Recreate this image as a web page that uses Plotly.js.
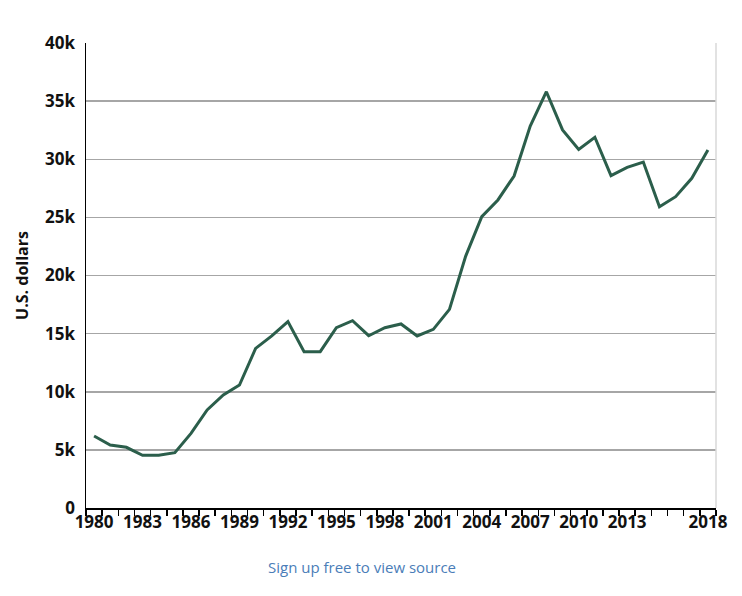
<!DOCTYPE html>
<html>
<head>
<meta charset="utf-8">
<script src="https://cdn.plot.ly/plotly-3.0.1.min.js"></script>
<style>
  html, body { margin: 0; padding: 0; background: #fff; }
  #figure { width: 742px; height: 596px; }
</style>
</head>
<body>
<div id="figure"></div>
<script>
FIGURE = document.getElementById('figure')

// one value per year, 1980 .. 2018
let years = []
for (let y = 1980; y <= 2018; y++) years.push(y)

let dollars = [
    6190, 5420, 5220, 4530, 4530, 4760, 6420, 8430, 9720, 10580,
    13730, 14800, 16030, 13450, 13450, 15510, 16110, 14820, 15510, 15830,
    14800, 15370, 17090, 21650, 25060, 26500, 28560, 32860, 35810, 32520,
    30850, 31890, 28590, 29300, 29760, 25920, 26780, 28360, 30800
]

let labelYears = [1980, 1983, 1986, 1989, 1992, 1995, 1998, 2001, 2004, 2007, 2010, 2013, 2018]
let yTicks = [0, 5000, 10000, 15000, 20000, 25000, 30000, 35000, 40000]
let yLabels = ['0', '5k', '10k', '15k', '20k', '25k', '30k', '35k', '40k']

// tick marks sit between the years
let edges = years.map(y => y - 0.5)
edges.push(years[years.length - 1] + 0.5)

let FONT = 'Open Sans, DejaVu Sans, sans-serif'
let tickFont = {family: FONT, size: 17, color: '#111111', weight: 'bold'}

let trace = {
    x: years,
    y: dollars,
    type: 'scatter',
    mode: 'lines',
    line: {color: '#2b5e4b', width: 3},
    hoverinfo: 'x+y'
}

let layout = {
    width: 742,
    height: 596,
    margin: {l: 86, r: 26, t: 43, b: 88},
    paper_bgcolor: '#ffffff',
    plot_bgcolor: '#ffffff',
    showlegend: false,
    font: {family: FONT, size: 16, color: '#111111', weight: 'bold'},
    xaxis: {
        range: [1979.5, 2018.5],
        tickvals: labelYears,
        ticktext: labelYears.map(String),
        ticks: '',
        showgrid: false,
        zeroline: false,
        showline: true,
        linecolor: '#000000',
        linewidth: 1.5,
        tickfont: tickFont,
        tickangle: 0,
        ticklabelstandoff: -2,
        minor: {
            tickvals: edges,
            ticks: 'outside',
            ticklen: 6,
            tickwidth: 1.5,
            tickcolor: '#000000',
            showgrid: false
        }
    },
    yaxis: {
        range: [0, 40000],
        tickvals: yTicks,
        ticktext: yLabels,
        ticks: '',
        showgrid: true,
        gridcolor: '#a6a6a6',
        gridwidth: 1.5,
        zeroline: false,
        showline: true,
        linecolor: '#000000',
        linewidth: 1.5,
        ticklabelstandoff: 6,
        tickfont: tickFont,
        title: {
            text: 'U.S. dollars',
            font: {family: FONT, size: 16, color: '#111111', weight: 'bold'},
            standoff: 12
        }
    },
    shapes: [
        {
            type: 'line', xref: 'paper', yref: 'paper',
            x0: 1, x1: 1, y0: 0, y1: 1,
            line: {color: '#d9d9d9', width: 1.5}
        }
    ],
    annotations: [
        {
            text: 'Sign up free to view source',
            xref: 'paper', yref: 'paper',
            x: 0.438, y: -0.126,
            xanchor: 'center', yanchor: 'middle',
            showarrow: false,
            font: {family: FONT, size: 15, color: '#4a7db8', weight: 'normal'}
        }
    ]
}

Plotly.newPlot(FIGURE, [trace], layout, {displayModeBar: false, staticPlot: true})
</script>
</body>
</html>
